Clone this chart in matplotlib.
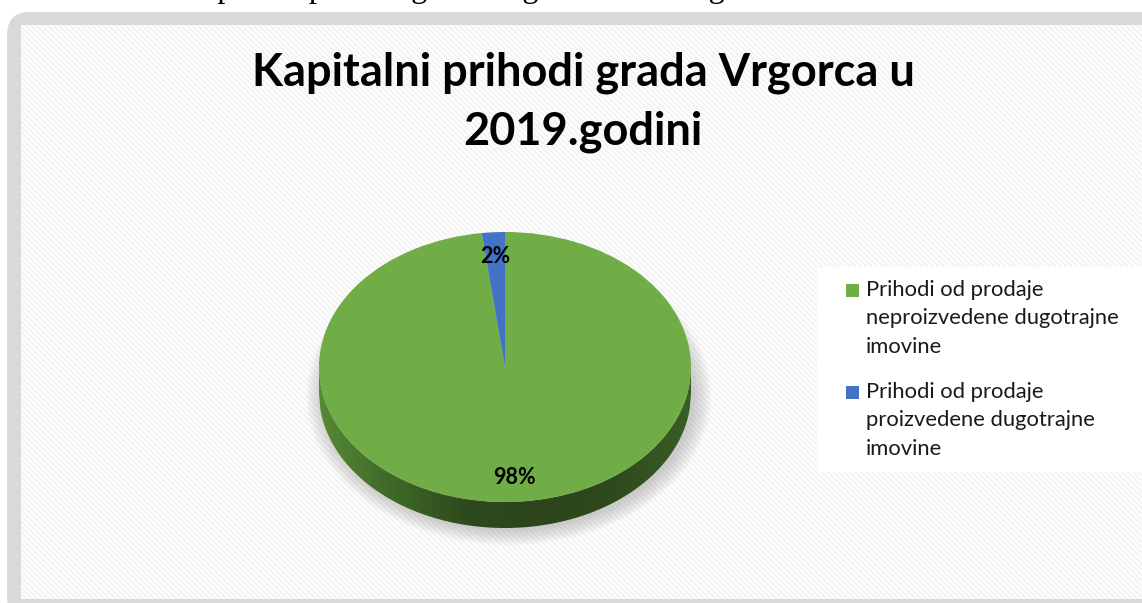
import numpy as np
import matplotlib
matplotlib.use("Agg")
from matplotlib import pyplot as plt
from matplotlib.patches import FancyBboxPatch, Rectangle, Polygon, Ellipse

# data
labels = ["Prihodi od prodaje\nneproizvedene dugotrajne\nimovine",
          "Prihodi od prodaje\nproizvedene dugotrajne\nimovine"]
shares = [98, 2]
colors = ["#70ad47", "#4472c4"]
title = "Kapitalni prihodi grada Vrgorca u\n2019.godini"
caption = "Grafikon 3: Kapitalni prihodi grada Vrgorca u 2019. godini"

W, H = 1142, 603
plt.rcParams["font.family"] = ["Lato", "DejaVu Sans"]
plt.rcParams["hatch.linewidth"] = 1.5
fig = plt.figure(figsize=(W / 100, H / 100), dpi=100)
fig.patch.set_facecolor("white")

def fx(px):
    return px / W

def fy(py):  # from top, in pixels
    return 1 - py / H

# outer gray frame (cut at right and bottom)
frame = FancyBboxPatch((fx(7), fy(620)), fx(1160), (620 - 12) / H,
                       boxstyle="round,pad=0,rounding_size=0.02",
                       transform=fig.transFigure, facecolor="#d9d9d9",
                       edgecolor="none", mutation_aspect=W / H, zorder=-3)
fig.patches.append(frame)
inner = Rectangle((fx(21), fy(599)), fx(1140), (599 - 25) / H,
                  transform=fig.transFigure, facecolor="white",
                  edgecolor="#f3f3f3", hatch="\\" * 6, linewidth=0,
                  zorder=-2)
fig.patches.append(inner)

# caption above the frame, cut by the top edge as in the scan
fig.text(fx(20), fy(-3), caption, family="Liberation Serif", fontsize=23.5,
         ha="left", va="baseline", color="black")

fig.text(fx(583), fy(102), title, ha="center", va="center", fontsize=32.5,
         fontweight="bold", linespacing=1.5)

# pie axes: radius 1 -> 186 px wide, 135 px tall
rx, ry = 186, 135
cx, cy = 505, 367
xl, yl_lo, yl_hi = 1.3, 1.6, 1.3
ax = fig.add_axes([fx(cx - xl * rx), fy(cy + yl_lo * ry),
                   2 * xl * rx / W, (yl_lo + yl_hi) * ry / H])
ax.patch.set_visible(False)

depth = 26 / ry

# soft shadow
for k in range(8):
    ax.add_patch(Ellipse((0.02, -depth - 0.02), 2.0 + 0.025 * k,
                         2.0 + 0.03 * k, facecolor="#8a8a8a",
                         alpha=0.06, edgecolor="none", zorder=0))

# side wall of the disc
xs = np.linspace(-1, 1, 300)
top = -np.sqrt(np.clip(1 - xs ** 2, 0, None))
side = np.concatenate([np.column_stack([xs, top]),
                       np.column_stack([xs[::-1], top[::-1] - depth])])
poly = Polygon(side, closed=True, facecolor="none", edgecolor="none", zorder=1)
ax.add_patch(poly)
grad = np.linspace(0, 1, 256)
cmap = matplotlib.colors.LinearSegmentedColormap.from_list(
    "side", ["#568a35", "#3d6826", "#2e4a1d", "#2c451b", "#2f4a1d", "#3a5e24"])
img = ax.imshow(grad[np.newaxis, :], cmap=cmap, aspect="auto",
                extent=(-1, 1, -1 - depth, 0), zorder=1)
img.set_clip_path(poly)

wedges, texts, autotexts = ax.pie(
    shares, colors=colors, startangle=90 + 360 * shares[1] / 100,
    counterclock=True, autopct="%1.0f%%", pctdistance=0.82,
    wedgeprops=dict(linewidth=0),
    textprops=dict(fontsize=15.5, fontweight="bold", color="black"))
for w in wedges:
    w.set_zorder(2)
for t in autotexts:
    t.set_zorder(3)
ax.set_aspect("auto")
ax.set_xlim(-xl, xl)
ax.set_ylim(-yl_lo, yl_hi)
ax.axis("off")

# legend box, drawn by hand so squares sit on the first line
fig.patches.append(Rectangle((fx(817), fy(472)), fx(330), (472 - 267) / H,
                             transform=fig.transFigure, facecolor="white",
                             edgecolor="none", zorder=-1))
for i, (lab, col) in enumerate(zip(labels, colors)):
    y0 = 284 + i * 102
    fig.patches.append(Rectangle((fx(846), fy(y0 + 13)), fx(13), 13 / H,
                                 transform=fig.transFigure, facecolor=col,
                                 edgecolor="none"))
    fig.text(fx(866), fy(y0 - 4), lab, ha="left", va="top", fontsize=15.8,
             linespacing=1.52, color="#1a1a1a")

fig.savefig("out.png", dpi=100, facecolor="white")
